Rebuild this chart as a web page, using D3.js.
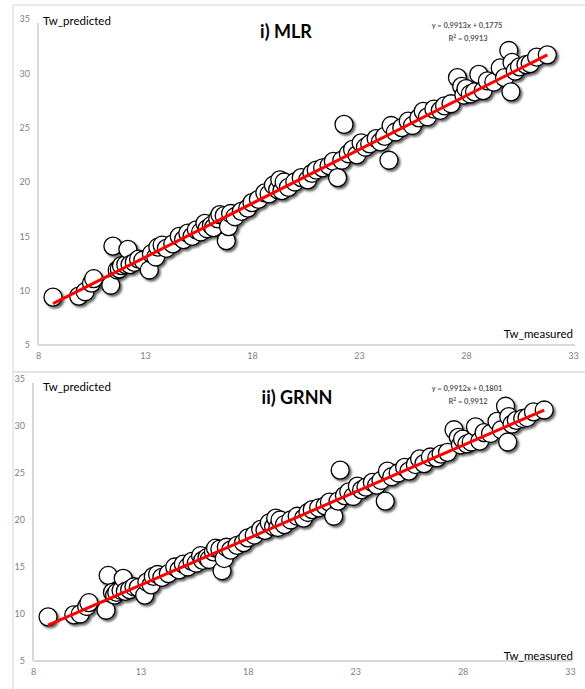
<!DOCTYPE html>
<html>
<head>
<meta charset="utf-8">
<script src="https://cdn.jsdelivr.net/npm/d3@7"></script>
<style>
  body { margin: 0; background: #fff; }
  svg { display: block; font-family: Lato, "Open Sans", sans-serif; }
</style>
</head>
<body>
<div id="chart"></div>
<script>
// Tw measured (x) and predicted values (y)
var measured = [8.7, 9.9, 10.2, 10.5, 10.6, 11.4, 11.5, 11.7, 11.8, 11.9, 12.1, 12.2, 12.3, 12.5, 12.7, 12.9,
  13.2, 13.3, 13.5, 13.6, 13.8, 14.0, 14.3, 14.6, 14.8, 15.0, 15.2, 15.4, 15.6, 15.8, 15.9, 16.1, 16.2, 16.4,
  16.5, 16.7, 16.8, 16.9, 17.0, 17.2, 17.5, 17.8, 18.0, 18.3, 18.6, 18.8, 19.0, 19.2, 19.3, 19.4, 19.5, 19.7,
  20.0, 20.3, 20.6, 20.8, 21.0, 21.3, 21.6, 21.8, 22.0, 22.2, 22.3, 22.5, 22.7, 22.9, 23.1, 23.3, 23.5, 23.8,
  24.0, 24.2, 24.4, 24.5, 24.7, 25.0, 25.3, 25.5, 25.8, 26.0, 26.2, 26.5, 26.8, 27.0, 27.3, 27.6, 27.8, 27.9,
  28.0, 28.2, 28.4, 28.6, 28.8, 29.0, 29.3, 29.6, 29.8, 30.0, 30.1, 30.15, 30.3, 30.5, 30.8, 31.0, 31.3, 31.8];

var mlrPredicted = [9.4, 9.5, 9.9, 10.7, 11.1, 10.5, 14.1, 11.9, 12.0, 12.3, 12.4, 13.8, 12.4, 12.6, 12.9, 12.8,
  11.9, 13.4, 13.1, 14.0, 14.2, 13.9, 14.3, 15.0, 14.7, 15.3, 15.0, 15.6, 15.4, 16.2, 15.7, 16.0, 15.8, 16.6,
  17.0, 16.9, 14.6, 15.9, 17.1, 16.8, 17.3, 17.6, 18.1, 18.4, 19.0, 18.9, 19.7, 19.3, 20.2, 19.2, 20.0, 19.5,
  20.0, 20.4, 20.2, 20.8, 21.1, 21.3, 21.5, 21.9, 20.4, 22.0, 25.3, 22.6, 23.0, 22.5, 23.6, 23.2, 23.5, 24.0,
  23.7, 24.2, 22.0, 25.2, 24.6, 25.0, 25.6, 25.2, 25.9, 26.5, 26.0, 26.7, 26.6, 27.0, 27.2, 29.6, 28.8, 28.0,
  28.6, 28.1, 28.3, 29.9, 28.4, 29.3, 29.2, 30.5, 29.6, 32.1, 28.3, 31.0, 30.2, 30.6, 30.8, 30.9, 31.5, 31.7];

var grnnPredicted = [9.7, 9.9, 10.0, 10.8, 11.2, 10.4, 14.1, 12.3, 12.0, 12.3, 12.5, 13.8, 12.4, 12.6, 12.9, 12.8,
  12.0, 13.4, 13.1, 14.0, 14.2, 13.9, 14.3, 15.0, 14.7, 15.3, 15.0, 15.6, 15.4, 16.2, 15.7, 16.0, 15.8, 16.6,
  17.0, 16.9, 14.6, 15.9, 17.1, 16.8, 17.3, 17.6, 18.1, 18.4, 19.0, 18.9, 19.7, 19.3, 20.2, 19.2, 20.0, 19.5,
  20.0, 20.4, 20.2, 20.8, 21.1, 21.3, 21.5, 21.9, 20.4, 22.0, 25.3, 22.6, 23.0, 22.5, 23.6, 23.2, 23.5, 24.0,
  23.7, 24.2, 22.0, 25.2, 24.6, 25.0, 25.6, 25.2, 25.9, 26.5, 26.0, 26.7, 26.6, 27.0, 27.2, 29.6, 28.8, 28.0,
  28.6, 28.1, 28.3, 29.9, 28.4, 29.3, 29.2, 30.5, 29.6, 32.1, 28.3, 31.0, 30.2, 30.6, 30.8, 30.9, 31.5, 31.7];

var xTicks = [8, 13, 18, 23, 28, 33];
var yTicks = [5, 10, 15, 20, 25, 30, 35];

// trend line coefficients printed on each panel
var mlrFit = {slope: 0.9913, intercept: 0.1775, r2: "0,9913", label: "y = 0,9913x + 0,1775"};
var grnnFit = {slope: 0.9912, intercept: 0.1801, r2: "0,9912", label: "y = 0,9912x + 0,1801"};

var width = 585, height = 689;

var svg = d3.select("#chart").append("svg")
    .attr("width", width)
    .attr("height", height);

// drop shadow like the excel markers
var filter = svg.append("defs").append("filter")
    .attr("id", "shadow")
    .attr("x", "-50%").attr("y", "-50%")
    .attr("width", "200%").attr("height", "200%");
filter.append("feDropShadow")
    .attr("dx", 2).attr("dy", 2)
    .attr("stdDeviation", 1.3)
    .attr("flood-color", "#000")
    .attr("flood-opacity", 0.6);

// outer frames of the two panels
svg.append("line").attr("x1", 13).attr("x2", width).attr("y1", 5).attr("y2", 5)
    .attr("stroke", "#e3e3e3").attr("stroke-width", 1.5);
svg.append("line").attr("x1", 13).attr("x2", 13).attr("y1", 5).attr("y2", height)
    .attr("stroke", "#e3e3e3").attr("stroke-width", 1.5);
svg.append("line").attr("x1", 13).attr("x2", width).attr("y1", 372).attr("y2", 372)
    .attr("stroke", "#e3e3e3").attr("stroke-width", 2);

/* function drawPanel:
   p: layout of the panel (pixel range of the axes, label positions)
   pred: predicted values, fit: trend line, title: panel title
*/
function drawPanel(p, pred, fit, title) {
  var xScale = d3.scaleLinear().domain([8, 33]).range([p.left, p.right]);
  var yScale = d3.scaleLinear().domain([5, 35]).range([p.bottom, p.top]);

  var g = svg.append("g");

  // axis lines
  var yAxis = d3.axisLeft(yScale).tickValues(yTicks).tickSize(0).tickPadding(p.yPad);
  var xAxis = d3.axisBottom(xScale).tickValues(xTicks).tickSize(0).tickPadding(8);

  var gY = g.append("g").attr("transform", "translate(" + p.left + ",0)").call(yAxis);
  var gX = g.append("g").attr("transform", "translate(0," + p.bottom + ")").call(xAxis);

  [gX, gY].forEach(function(a) {
    a.select(".domain").attr("stroke", "#d9d9d9").attr("stroke-width", 2);
    a.selectAll("text").attr("fill", "#808080").style("font-size", "9px")
      .style("font-family", "Lato, sans-serif");
  });
  gY.select(".domain").attr("d", "M0," + (p.top + 4) + "V" + p.bottom);
  gX.select(".domain").attr("d", "M" + p.left + ",0H" + (p.right + 2));

  // scatter points
  g.append("g").attr("filter", "url(#shadow)")
    .selectAll("circle")
    .data(measured)
    .enter()
    .append("circle")
    .attr("cx", function(d) { return xScale(d); })
    .attr("cy", function(d, i) { return yScale(pred[i]); })
    .attr("r", p.r)
    .attr("fill", "#fff")
    .attr("stroke", "#000")
    .attr("stroke-width", 1.3);

  // linear trend line
  var x0 = d3.min(measured), x1 = d3.max(measured);
  g.append("line")
    .attr("x1", xScale(x0)).attr("y1", yScale(fit.slope * x0 + fit.intercept))
    .attr("x2", xScale(x1)).attr("y2", yScale(fit.slope * x1 + fit.intercept))
    .attr("stroke", "#ff0000")
    .attr("stroke-width", 3);

  // texts
  g.append("text").attr("x", 43).attr("y", p.predY)
    .style("font-size", "11.5px").attr("fill", "#000").text("Tw_predicted");
  g.append("text").attr("x", 573).attr("y", p.measY).attr("text-anchor", "end")
    .style("font-size", "11.5px").attr("fill", "#000").text("Tw_measured");
  g.append("text").attr("x", p.titleX).attr("y", p.titleY).attr("text-anchor", "middle")
    .style("font-size", "18px").style("font-weight", "bold").attr("fill", "#000").text(title);

  var eq = g.append("text").attr("text-anchor", "middle")
    .style("font-size", "7.5px").style("font-weight", "bold").attr("fill", "#595959");
  eq.append("tspan").attr("x", 467).attr("y", p.eqY).text(fit.label);
  var r2 = eq.append("tspan").attr("x", 468).attr("y", p.eqY + 13);
  r2.append("tspan").text("R");
  r2.append("tspan").attr("dy", -3).style("font-size", "5px").text("2");
  r2.append("tspan").attr("dy", 3).text(" = " + fit.r2);
}

drawPanel({left: 38, right: 573, top: 19, bottom: 345, yPad: 8, r: 9,
  predY: 25, measY: 338, titleX: 286, titleY: 38, eqY: 28}, mlrPredicted, mlrFit, "i) MLR");

drawPanel({left: 33, right: 570, top: 379, bottom: 661, yPad: 8, r: 9,
  predY: 391, measY: 660, titleX: 297, titleY: 404, eqY: 391}, grnnPredicted, grnnFit, "ii) GRNN");
</script>
</body>
</html>
